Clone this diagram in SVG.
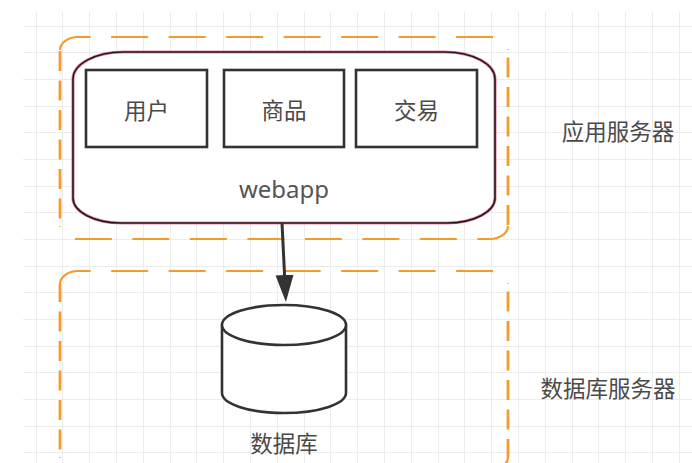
<svg xmlns="http://www.w3.org/2000/svg" width="692" height="463" viewBox="0 0 692 463">
<style>
.grid{stroke:#ececec;stroke-width:1;fill:none}
.ho{fill:none;stroke:#f29b30;stroke-width:2.2;stroke-dasharray:37 20.5}
.ve{fill:none;stroke:#f29b30;stroke-width:2.8;stroke-dasharray:20 9.5;stroke-dashoffset:22}
.box{fill:#fff;stroke:#333;stroke-width:2.6}
.cjk{font-family:"Noto Sans CJK SC","Noto Sans",sans-serif;font-size:22.5px;fill:#4a4a4a;text-anchor:middle;dominant-baseline:central}
.lat{font-family:"Noto Sans","Liberation Sans",sans-serif;font-size:24px;fill:#555;text-anchor:middle}
</style>
<defs>
<marker id="arrow" markerUnits="userSpaceOnUse" markerWidth="28" markerHeight="20" refX="21" refY="9" orient="auto">
<path d="M0,0 L27,9 L0,18 Z" fill="#333"/>
</marker>
</defs>
<rect width="692" height="463" fill="#fff"/>
<g id="grid" class="grid">
<path d="M36.5,12V463M62.5,12V463M89.5,12V463M116.5,12V463M143.5,12V463M170.5,12V463M196.5,12V463M223.5,12V463M250.5,12V463M277.5,12V463M304.5,12V463M330.5,12V463M357.5,12V463M384.5,12V463M411.5,12V463M438.5,12V463M464.5,12V463M491.5,12V463M518.5,12V463M545.5,12V463M572.5,12V463M598.5,12V463M625.5,12V463M652.5,12V463M679.5,12V463"/>
<path d="M23,26.5H692M23,52.5H692M23,79.5H692M23,106.5H692M23,132.5H692M23,159.5H692M23,186.5H692M23,212.5H692M23,239.5H692M23,266.5H692M23,292.5H692M23,319.5H692M23,346.5H692M23,372.5H692M23,399.5H692M23,426.5H692M23,452.5H692"/>
</g>
<g id="app-server">
<path class="ho" d="M60,50 A18,13 0 0 1 78,37 H490 A18,13 0 0 1 508,50"/>
<path class="ve" d="M508,50 V226"/>
<path class="ho" d="M508,226 A18,13 0 0 1 490,239 H78 A18,13 0 0 1 60,226"/>
<path class="ve" d="M60,226 V50"/>
<text class="cjk" x="618" y="130">应用服务器</text>
</g>
<g id="db-server">
<path class="ho" d="M60,284 A18,13 0 0 1 78,271 H490 A18,13 0 0 1 508,284"/>
<path class="ve" d="M508,284 V457"/>
<path class="ho" d="M508,457 A18,13 0 0 1 490,470 H78 A18,13 0 0 1 60,457"/>
<path class="ve" d="M60,457 V284"/>
<text class="cjk" x="608" y="387">数据库服务器</text>
</g>
<g id="webapp">
<path d="M123,52 H445 A50,27 0 0 1 495,79 V198 A48,25 0 0 1 447,223 H121 A48,25 0 0 1 73,198 V79 A50,27 0 0 1 123,52 Z" fill="#fff" stroke="#d991a3" stroke-width="3.2"/>
<path d="M123,52 H445 A50,27 0 0 1 495,79 V198 A48,25 0 0 1 447,223 H121 A48,25 0 0 1 73,198 V79 A50,27 0 0 1 123,52 Z" fill="none" stroke="#2e1219" stroke-width="1.6"/>
<text class="lat" x="284" y="198">webapp</text>
</g>
<g id="user">
<rect class="box" x="86" y="70" width="121" height="77"/>
<text class="cjk" x="146.5" y="109">用户</text>
</g>
<g id="goods">
<rect class="box" x="224" y="70" width="120" height="77"/>
<text class="cjk" x="284" y="109">商品</text>
</g>
<g id="trade">
<rect class="box" x="356" y="70" width="121" height="77"/>
<text class="cjk" x="416.5" y="109">交易</text>
</g>
<g id="database">
<path d="M222,325 V393 A62,20 0 0 0 346,393 V325" fill="#fff" stroke="#333" stroke-width="2.6"/>
<ellipse cx="284" cy="325" rx="62" ry="20" fill="#fff" stroke="#333" stroke-width="2.6"/>
<text class="cjk" x="284" y="442">数据库</text>
</g>
<g id="connectors">
<line x1="282" y1="223" x2="285.6" y2="296" stroke="#333" stroke-width="3" marker-end="url(#arrow)"/>
</g>
</svg>
